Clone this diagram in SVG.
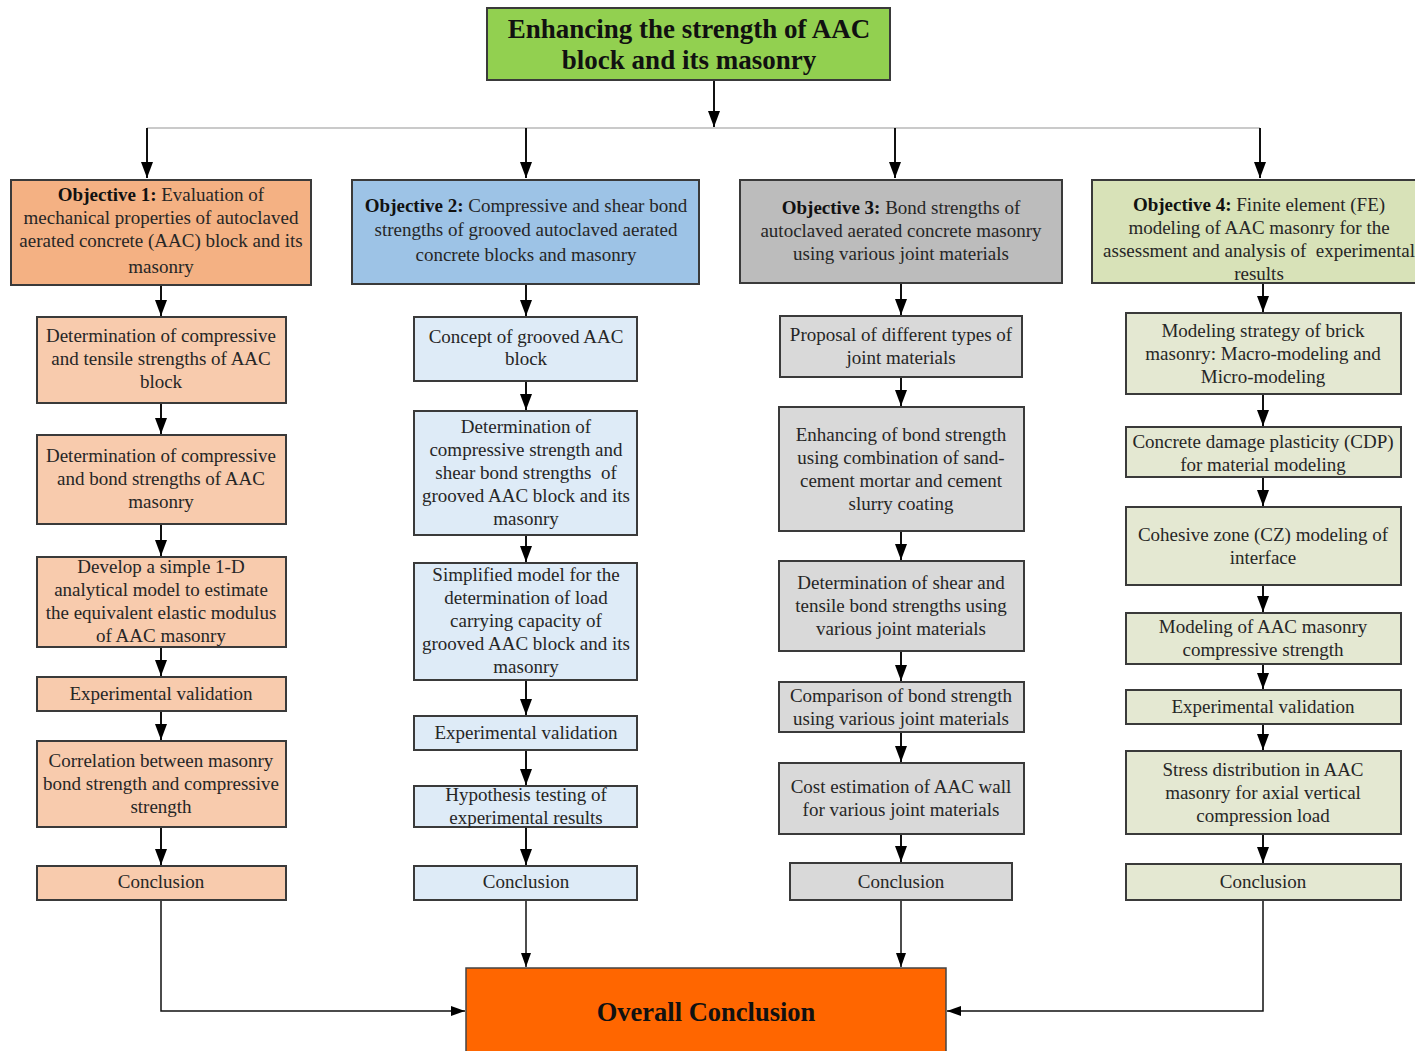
<svg xmlns="http://www.w3.org/2000/svg" width="1415" height="1051" viewBox="0 0 1415 1051">
<style>
text{font-family:"Liberation Serif","Times New Roman",serif;font-size:19px;fill:#262626;text-anchor:middle}
.b{font-weight:bold;fill:#111}
.title{font-size:27px;font-weight:bold;fill:#111}
.big{font-size:26.5px;font-weight:bold;fill:#111}
.nd rect{stroke:#3a3a3a;stroke-width:2}
.o1{fill:#f4b183}.c1{fill:#f8cbad}
.o2{fill:#9dc3e6}.c2{fill:#deebf7}
.o3{fill:#bcbcbc}.c3{fill:#d9d9d9}
.o4{fill:#d8e2b8}.c4{fill:#e4e8d2}
.ln{stroke:#111;stroke-width:2;fill:none}
.thin{stroke:#111;stroke-width:1.5;fill:none}
</style>
<defs>
<marker id="ah" viewBox="0 0 16 12" refX="16" refY="6" markerWidth="16" markerHeight="12" markerUnits="userSpaceOnUse" orient="auto"><path d="M0,0 L16,6 L0,12 z" fill="#000"/></marker>
<marker id="as" viewBox="0 0 14 10" refX="14" refY="5" markerWidth="14" markerHeight="10" markerUnits="userSpaceOnUse" orient="auto"><path d="M0,0 L14,5 L0,10 z" fill="#000"/></marker>
</defs>
<rect width="1415" height="1051" fill="#fff"/>

<g id="connectors">
<path class="ln" d="M714,81 V127" marker-end="url(#ah)"/>
<path d="M147,128 H1260" stroke="#b8b8b8" stroke-width="1.5" fill="none"/>
<path class="ln" d="M147,128 V178" marker-end="url(#ah)"/>
<path class="ln" d="M526,128 V178" marker-end="url(#ah)"/>
<path class="ln" d="M895,128 V178" marker-end="url(#ah)"/>
<path class="ln" d="M1260,128 V178" marker-end="url(#ah)"/>
<path class="ln" d="M161,286 V316" marker-end="url(#ah)"/>
<path class="ln" d="M161,404 V434" marker-end="url(#ah)"/>
<path class="ln" d="M161,525 V556" marker-end="url(#ah)"/>
<path class="ln" d="M161,648 V676" marker-end="url(#ah)"/>
<path class="ln" d="M161,712 V740" marker-end="url(#ah)"/>
<path class="ln" d="M161,828 V865" marker-end="url(#ah)"/>
<path class="ln" d="M526,285 V316" marker-end="url(#ah)"/>
<path class="ln" d="M526,382 V410" marker-end="url(#ah)"/>
<path class="ln" d="M526,536 V562" marker-end="url(#ah)"/>
<path class="ln" d="M526,681 V715" marker-end="url(#ah)"/>
<path class="ln" d="M526,751 V785" marker-end="url(#ah)"/>
<path class="ln" d="M526,828 V865" marker-end="url(#ah)"/>
<path class="ln" d="M901,284 V315" marker-end="url(#ah)"/>
<path class="ln" d="M901,378 V406" marker-end="url(#ah)"/>
<path class="ln" d="M901,532 V560" marker-end="url(#ah)"/>
<path class="ln" d="M901,652 V681" marker-end="url(#ah)"/>
<path class="ln" d="M901,733 V762" marker-end="url(#ah)"/>
<path class="ln" d="M901,835 V862" marker-end="url(#ah)"/>
<path class="ln" d="M1263,284 V312" marker-end="url(#ah)"/>
<path class="ln" d="M1263,395 V426" marker-end="url(#ah)"/>
<path class="ln" d="M1263,478 V506" marker-end="url(#ah)"/>
<path class="ln" d="M1263,586 V612" marker-end="url(#ah)"/>
<path class="ln" d="M1263,665 V689" marker-end="url(#ah)"/>
<path class="ln" d="M1263,725 V750" marker-end="url(#ah)"/>
<path class="ln" d="M1263,835 V863" marker-end="url(#ah)"/>
<path class="thin" d="M161,901 V1011 H465" marker-end="url(#as)"/>
<path class="thin" d="M526,901 V967" marker-end="url(#as)"/>
<path class="thin" d="M901,901 V967" marker-end="url(#as)"/>
<path class="thin" d="M1263,901 V1011 H947" marker-end="url(#as)"/>
</g>

<g id="title" class="nd">
<rect x="487" y="8" width="403" height="72" fill="#92d050"/>
<text class="title" x="689" y="38">Enhancing the strength of AAC</text>
<text class="title" x="689" y="69">block and its masonry</text>
</g>

<g id="obj1" class="nd">
<rect class="o1" x="11" y="180" width="300" height="105"/>
<text x="161" y="201"><tspan class="b">Objective 1:</tspan> Evaluation of</text>
<text x="161" y="224">mechanical properties of autoclaved</text>
<text x="161" y="247">aerated concrete (AAC) block and its</text>
<text x="161" y="273">masonry</text>
</g>
<g id="obj2" class="nd">
<rect class="o2" x="352" y="180" width="347" height="104"/>
<text x="526" y="212"><tspan class="b">Objective 2:</tspan> Compressive and shear bond</text>
<text x="526" y="236">strengths of grooved autoclaved aerated</text>
<text x="526" y="261">concrete blocks and masonry</text>
</g>
<g id="obj3" class="nd">
<rect class="o3" x="740" y="180" width="322" height="103"/>
<text x="901" y="214"><tspan class="b">Objective 3:</tspan> Bond strengths of</text>
<text x="901" y="237">autoclaved aerated concrete masonry</text>
<text x="901" y="260">using various joint materials</text>
</g>
<g id="obj4" class="nd">
<rect class="o4" x="1092" y="180" width="334" height="103"/>
<text x="1259" y="211"><tspan class="b">Objective 4:</tspan> Finite element (FE)</text>
<text x="1259" y="234">modeling of AAC masonry for the</text>
<text x="1259" y="257" xml:space="preserve">assessment and analysis of  experimental</text>
<text x="1259" y="280">results</text>
</g>

<g id="c1n1" class="nd"><rect class="c1" x="37" y="317" width="249" height="86"/>
<text x="161" y="342">Determination of compressive</text><text x="161" y="365">and tensile strengths of AAC</text><text x="161" y="388">block</text></g>
<g id="c1n2" class="nd"><rect class="c1" x="37" y="435" width="249" height="89"/>
<text x="161" y="462">Determination of compressive</text><text x="161" y="485">and bond strengths of AAC</text><text x="161" y="508">masonry</text></g>
<g id="c1n3" class="nd"><rect class="c1" x="37" y="557" width="249" height="90"/>
<text x="161" y="573">Develop a simple 1-D</text><text x="161" y="596">analytical model to estimate</text><text x="161" y="619">the equivalent elastic modulus</text><text x="161" y="642">of AAC masonry</text></g>
<g id="c1n4" class="nd"><rect class="c1" x="37" y="677" width="249" height="34"/>
<text x="161" y="700">Experimental validation</text></g>
<g id="c1n5" class="nd"><rect class="c1" x="37" y="741" width="249" height="86"/>
<text x="161" y="767">Correlation between masonry</text><text x="161" y="790">bond strength and compressive</text><text x="161" y="813">strength</text></g>
<g id="c1n6" class="nd"><rect class="c1" x="37" y="866" width="249" height="34"/>
<text x="161" y="888">Conclusion</text></g>

<g id="c2n1" class="nd"><rect class="c2" x="414" y="317" width="223" height="64"/>
<text x="526" y="343">Concept of grooved AAC</text><text x="526" y="365">block</text></g>
<g id="c2n2" class="nd"><rect class="c2" x="414" y="411" width="223" height="124"/>
<text x="526" y="433">Determination of</text><text x="526" y="456">compressive strength and</text><text x="526" y="479" xml:space="preserve">shear bond strengths  of</text><text x="526" y="502">grooved AAC block and its</text><text x="526" y="525">masonry</text></g>
<g id="c2n3" class="nd"><rect class="c2" x="414" y="563" width="223" height="117"/>
<text x="526" y="581">Simplified model for the</text><text x="526" y="604">determination of load</text><text x="526" y="627">carrying capacity of</text><text x="526" y="650">grooved AAC block and its</text><text x="526" y="673">masonry</text></g>
<g id="c2n4" class="nd"><rect class="c2" x="414" y="716" width="223" height="34"/>
<text x="526" y="739">Experimental validation</text></g>
<g id="c2n5" class="nd"><rect class="c2" x="414" y="786" width="223" height="41"/>
<text x="526" y="801">Hypothesis testing of</text><text x="526" y="824">experimental results</text></g>
<g id="c2n6" class="nd"><rect class="c2" x="414" y="866" width="223" height="34"/>
<text x="526" y="888">Conclusion</text></g>

<g id="c3n1" class="nd"><rect class="c3" x="780" y="316" width="242" height="61"/>
<text x="901" y="341">Proposal of different types of</text><text x="901" y="364">joint materials</text></g>
<g id="c3n2" class="nd"><rect class="c3" x="779" y="407" width="245" height="124"/>
<text x="901" y="441">Enhancing of bond strength</text><text x="901" y="464">using combination of sand-</text><text x="901" y="487">cement mortar and cement</text><text x="901" y="510">slurry coating</text></g>
<g id="c3n3" class="nd"><rect class="c3" x="779" y="561" width="245" height="90"/>
<text x="901" y="589">Determination of shear and</text><text x="901" y="612">tensile bond strengths using</text><text x="901" y="635">various joint materials</text></g>
<g id="c3n4" class="nd"><rect class="c3" x="779" y="682" width="245" height="50"/>
<text x="901" y="702">Comparison of bond strength</text><text x="901" y="725">using various joint materials</text></g>
<g id="c3n5" class="nd"><rect class="c3" x="779" y="763" width="245" height="71"/>
<text x="901" y="793">Cost estimation of AAC wall</text><text x="901" y="816">for various joint materials</text></g>
<g id="c3n6" class="nd"><rect class="c3" x="790" y="863" width="222" height="37"/>
<text x="901" y="888">Conclusion</text></g>

<g id="c4n1" class="nd"><rect class="c4" x="1126" y="313" width="275" height="81"/>
<text x="1263" y="337">Modeling strategy of brick</text><text x="1263" y="360">masonry: Macro-modeling and</text><text x="1263" y="383">Micro-modeling</text></g>
<g id="c4n2" class="nd"><rect class="c4" x="1126" y="427" width="275" height="50"/>
<text x="1263" y="448">Concrete damage plasticity (CDP)</text><text x="1263" y="471">for material modeling</text></g>
<g id="c4n3" class="nd"><rect class="c4" x="1126" y="507" width="275" height="78"/>
<text x="1263" y="541">Cohesive zone (CZ) modeling of</text><text x="1263" y="564">interface</text></g>
<g id="c4n4" class="nd"><rect class="c4" x="1126" y="613" width="275" height="51"/>
<text x="1263" y="633">Modeling of AAC masonry</text><text x="1263" y="656">compressive strength</text></g>
<g id="c4n5" class="nd"><rect class="c4" x="1126" y="690" width="275" height="34"/>
<text x="1263" y="713">Experimental validation</text></g>
<g id="c4n6" class="nd"><rect class="c4" x="1126" y="751" width="275" height="83"/>
<text x="1263" y="776">Stress distribution in AAC</text><text x="1263" y="799">masonry for axial vertical</text><text x="1263" y="822">compression load</text></g>
<g id="c4n7" class="nd"><rect class="c4" x="1126" y="864" width="275" height="36"/>
<text x="1263" y="888">Conclusion</text></g>

<g id="overall">
<rect x="466" y="968" width="480" height="95" fill="#ff6600" stroke="#444" stroke-width="1.5"/>
<text class="big" x="706" y="1021">Overall Conclusion</text>
</g>
</svg>
